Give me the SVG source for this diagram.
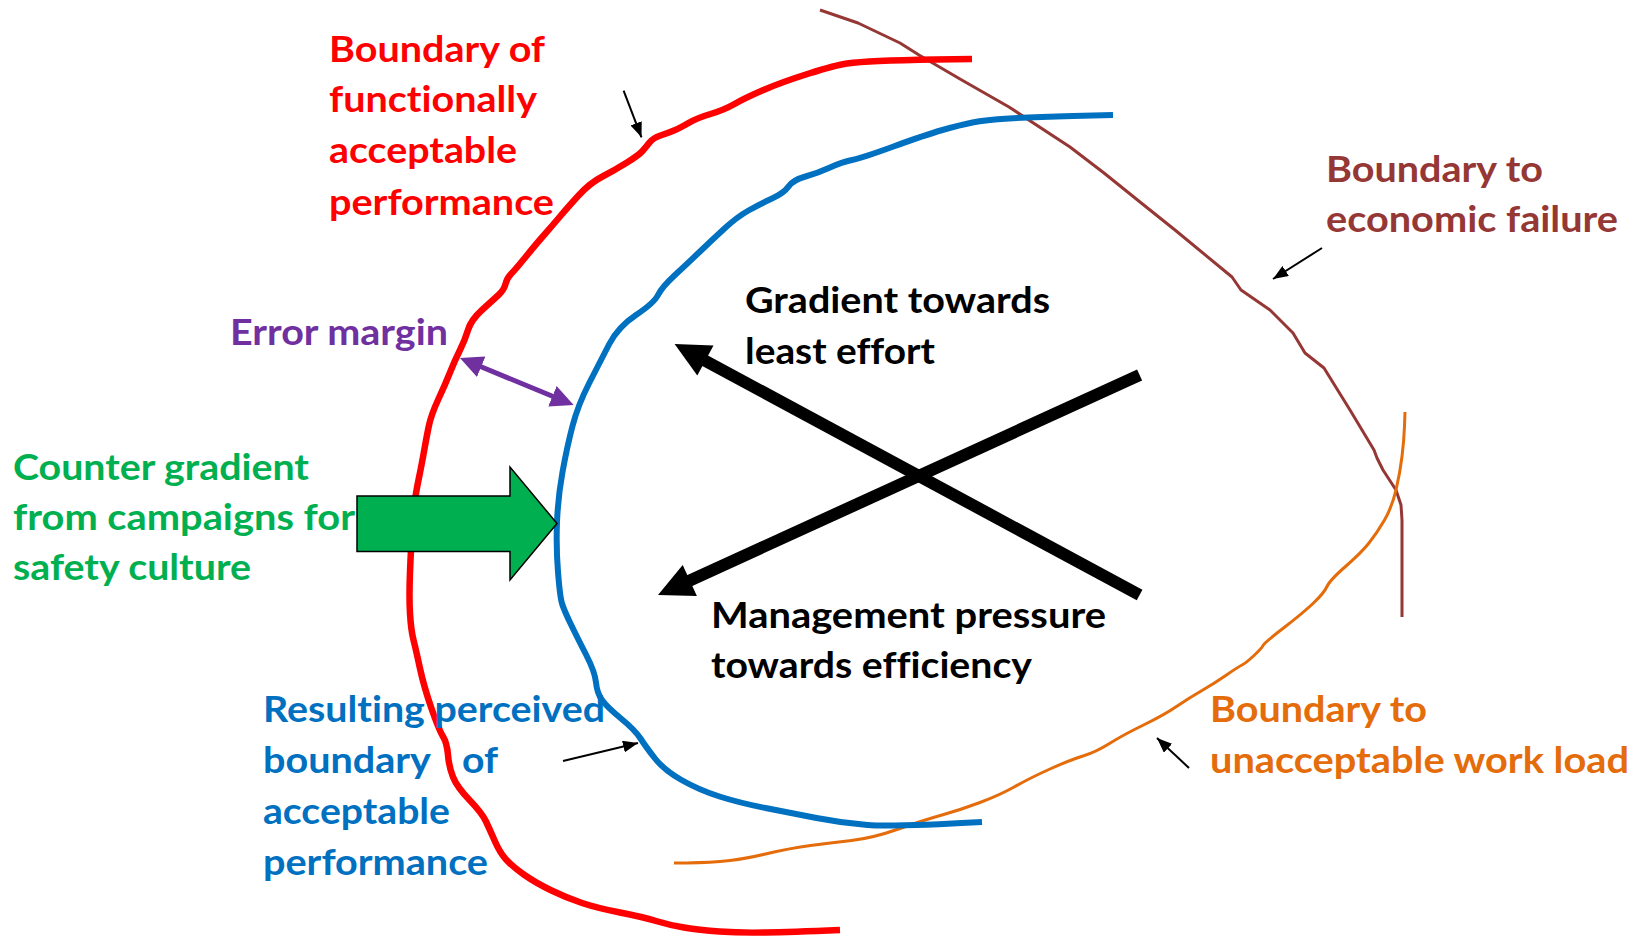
<svg xmlns="http://www.w3.org/2000/svg" width="1643" height="941" viewBox="0 0 1643 941">
  <style>
    .lbl { font-family: Lato, "Open Sans", "Liberation Sans", sans-serif; font-weight: 700; font-size: 37px; font-variant-ligatures: none; }
    .curve { fill: none; stroke-linejoin: round; stroke-linecap: butt; }
    .red { stroke: #FF0000; stroke-width: 6.5; }
    .blue { stroke: #0070C0; stroke-width: 6; }
    .brown { stroke: #953735; stroke-width: 3; }
    .orange { stroke: #E46C0A; stroke-width: 3; }
    .pointer { stroke: #000; stroke-width: 2; fill: none; marker-end: url(#tip); }
    .force { stroke: #000; stroke-width: 12; stroke-linecap: butt; fill: none; }
  </style>
  <defs>
    <marker id="tip" markerUnits="userSpaceOnUse" markerWidth="15" markerHeight="12" refX="15" refY="6" orient="auto">
      <path d="M0,0 L15,6 L0,12 z" fill="#000"/>
    </marker>
    <marker id="marginHead" markerUnits="userSpaceOnUse" markerWidth="23" markerHeight="22" refX="8" refY="11" orient="auto-start-reverse">
      <path d="M0,0 L23,11 L0,22 z" fill="#7030A0"/>
    </marker>
  </defs>

  <rect width="1643" height="941" fill="#fff"/>

  <!-- boundary curves -->
  <g id="boundary-economic">
    <path class="curve brown" d="M820,10 L858,23 L900,43 L919,55 L960,79 L1009,107 L1070,147 L1104,173 L1140,202 L1175,230 L1232,277 L1241,290 L1270,310 L1293,333 L1305,353 L1324,368 L1350,410 L1374,450 L1377,458 L1383,470 L1396,490 L1401,505 L1402,520 L1402,617"/>
  </g>
  <g id="boundary-workload">
    <path class="curve orange" d="M1405,412 L1404.5,426 Q1404,440 1402,456.5 Q1400,473 1396,490 Q1392,507 1384.5,520 Q1377,533 1369,543 Q1361,553 1345.5,566.5 Q1330,580 1327,586.5 Q1324,593 1313.5,603 Q1303,613 1283.5,628 Q1264,643 1263,645.5 Q1262,648 1254,655.5 Q1246,663 1242,665 Q1238,667 1226.5,675 Q1215,683 1202,690.5 Q1189,698 1176.5,706.5 Q1164,715 1143.5,725 Q1123,735 1109.5,743.5 Q1096,752 1083,756 Q1070,760 1050,769 Q1030,778 1015,786.5 Q1000,795 980,802.5 Q960,810 942,815 Q924,820 898.5,829 Q873,838 851.5,840.5 Q830,843 810.5,845.5 Q791,848 765.5,854 Q740,860 720,861.5 Q700,863 674,863"/>
  </g>
  <g id="boundary-functional">
    <path class="curve red" d="M972,59 L936,59.5 Q900,60 879,61 Q858,62 847,63.5 Q836,65 809,73.5 Q782,82 763.5,90 Q745,98 734.5,104 Q724,110 710.5,114 Q697,118 688.5,123 Q680,128 674,130.5 Q668,133 660.5,135.5 Q653,138 649.5,142.5 Q646,147 642.5,151 Q639,155 627,162.5 Q615,170 602.5,176.5 Q590,183 579,195 Q568,207 560,216.5 Q552,226 544.5,234.5 Q537,243 526,256.5 Q515,270 511,274 Q507,278 505.5,284 Q504,290 498.5,295 Q493,300 482,310 Q471,320 468,330 Q465,340 460,350 Q455,360 450,372.5 Q445,385 438,400 Q431,415 428.5,427.5 Q426,440 424,451.5 Q422,463 418.5,480 Q415,497 414,508.5 Q413,520 412,533.5 Q411,547 410,572 Q409,597 410,613.5 Q411,630 413.5,640 Q416,650 420,668.5 Q424,687 431.5,708.5 Q439,730 443,736.5 Q447,743 448,755 Q449,767 453,777 Q457,787 469.5,800 Q482,813 486,821.5 Q490,830 495,841.5 Q500,853 506.5,860 Q513,867 524.5,875 Q536,883 551.5,890.5 Q567,898 582,903 Q597,908 620,912.5 Q643,917 656,921 Q669,925 684,927.5 Q699,930 719.5,931.5 Q740,933 765,932.5 Q790,932 840,930"/>
  </g>
  <g id="boundary-perceived">
    <path class="curve blue" d="M1113,115 L1073,116 Q1033,117 1009,118.5 Q985,120 972.5,122.5 Q960,125 942.5,130 Q925,135 893.5,146.5 Q862,158 852,160 Q842,162 830,167.5 Q818,173 805.5,176.5 Q793,180 788.5,186.5 Q784,193 772,198.5 Q760,204 748.5,210.5 Q737,217 724.5,228.5 Q712,240 700,251.5 Q688,263 675,275 Q662,287 658,295 Q654,303 636,315 Q618,327 609,344.5 Q600,362 589,383.5 Q578,405 572.5,426 Q567,447 562.5,472 Q558,497 557,522 Q556,547 558,572 Q560,597 562,603.5 Q564,610 570.5,623.5 Q577,637 586,654.5 Q595,672 596,682.5 Q597,693 602,700 Q607,707 621,718.5 Q635,730 640.5,738.5 Q646,747 655,758.5 Q664,770 681.5,780 Q699,790 719.5,796.5 Q740,803 765.5,808 Q791,813 816.5,818 Q842,823 867.5,825 Q893,827 982,822"/>
  </g>

  <!-- counter gradient block arrow -->
  <g id="counter-gradient-arrow">
    <polygon points="357,496 510,496 510,467 557,523.5 510,580 510,551.5 357,551.5" fill="#00B050" stroke="#000" stroke-width="1.5" stroke-linejoin="miter"/>
  </g>

  <!-- connectors -->
  <g id="connectors">
    <!-- error margin between the two boundaries -->
    <line x1="473.8" y1="363.7" x2="559.8" y2="399.3" stroke="#7030A0" stroke-width="5" marker-start="url(#marginHead)" marker-end="url(#marginHead)"/>
    <!-- gradient towards least effort -->
    <line class="force" x1="1139.6" y1="595" x2="700" y2="358"/>
    <polygon points="674.6,344 713.5,345.6 697.3,375.6" fill="#000"/>
    <!-- management pressure towards efficiency -->
    <line class="force" x1="1139.6" y1="375" x2="685" y2="582.7"/>
    <polygon points="658,595 682.7,565 696.9,596" fill="#000"/>
    <!-- label pointers -->
    <line class="pointer" x1="623.6" y1="90.7" x2="641.5" y2="137.3"/>
    <line class="pointer" x1="1322" y1="248" x2="1273" y2="279"/>
    <line class="pointer" x1="563" y1="761" x2="638" y2="743"/>
    <line class="pointer" x1="1189" y1="768" x2="1157" y2="738"/>
  </g>

  <!-- labels -->
  <g id="label-functional" class="lbl" fill="#FF0000">
    <text x="329" y="62" textLength="216" lengthAdjust="spacingAndGlyphs">Boundary of</text>
    <text x="329" y="112" textLength="208" lengthAdjust="spacingAndGlyphs">functionally</text>
    <text x="329" y="163" textLength="188" lengthAdjust="spacingAndGlyphs">acceptable</text>
    <text x="329" y="215" textLength="225" lengthAdjust="spacingAndGlyphs">performance</text>
  </g>
  <g id="label-economic" class="lbl" fill="#953735">
    <text x="1326" y="182" textLength="217" lengthAdjust="spacingAndGlyphs">Boundary to</text>
    <text x="1326" y="232" textLength="292" lengthAdjust="spacingAndGlyphs">economic failure</text>
  </g>
  <g id="label-margin" class="lbl" fill="#7030A0">
    <text x="230" y="345" textLength="218" lengthAdjust="spacingAndGlyphs">Error margin</text>
  </g>
  <g id="label-counter" class="lbl" fill="#00B050">
    <text x="13" y="480" textLength="296" lengthAdjust="spacingAndGlyphs">Counter gradient</text>
    <text x="13" y="530" textLength="342" lengthAdjust="spacingAndGlyphs">from campaigns for</text>
    <text x="13" y="580" textLength="238" lengthAdjust="spacingAndGlyphs">safety culture</text>
  </g>
  <g id="label-least-effort" class="lbl" fill="#000">
    <text x="745" y="313" textLength="305" lengthAdjust="spacingAndGlyphs">Gradient towards</text>
    <text x="745" y="364" textLength="190" lengthAdjust="spacingAndGlyphs">least effort</text>
  </g>
  <g id="label-management" class="lbl" fill="#000">
    <text x="711" y="628" textLength="395" lengthAdjust="spacingAndGlyphs">Management pressure</text>
    <text x="711" y="678" textLength="321" lengthAdjust="spacingAndGlyphs">towards efficiency</text>
  </g>
  <g id="label-perceived" class="lbl" fill="#0070C0">
    <text x="263" y="722" textLength="342" lengthAdjust="spacingAndGlyphs">Resulting perceived</text>
    <text x="263" y="773"><tspan textLength="168" lengthAdjust="spacingAndGlyphs">boundary</tspan><tspan x="462" textLength="36" lengthAdjust="spacingAndGlyphs">of</tspan></text>
    <text x="263" y="824" textLength="187" lengthAdjust="spacingAndGlyphs">acceptable</text>
    <text x="263" y="875" textLength="225" lengthAdjust="spacingAndGlyphs">performance</text>
  </g>
  <g id="label-workload" class="lbl" fill="#E46C0A">
    <text x="1210" y="722" textLength="217" lengthAdjust="spacingAndGlyphs">Boundary to</text>
    <text x="1210" y="773" textLength="419" lengthAdjust="spacingAndGlyphs">unacceptable work load</text>
  </g>
</svg>
